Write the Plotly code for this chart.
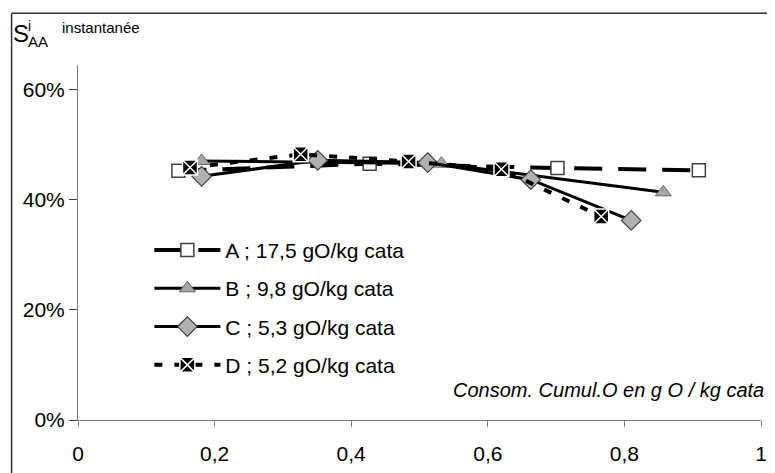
import plotly.graph_objects as go

# ---- data ----
a_x = [0.147, 0.427, 0.702, 0.909]
a_y = [0.452, 0.465, 0.457, 0.453]

b_x = [0.181, 0.532, 0.857]
b_y = [0.470, 0.465, 0.413]

c_x = [0.181, 0.351, 0.512, 0.663, 0.810]
c_y = [0.442, 0.471, 0.467, 0.436, 0.362]

d_x = [0.164, 0.326, 0.484, 0.620, 0.766]
d_y = [0.458, 0.482, 0.469, 0.455, 0.369]

names = ["A ; 17,5 gO/kg cata", "B ; 9,8 gO/kg cata",
         "C ; 5,3 gO/kg cata", "D ; 5,2 gO/kg cata"]

x_ticks = [0, 0.2, 0.4, 0.6, 0.8, 1]
x_tick_labels = ["0", "0,2", "0,4", "0,6", "0,8", "1"]
y_ticks = [0, 0.2, 0.4, 0.6]
y_tick_labels = ["0%", "20%", "40%", "60%"]

FONT = "Liberation Sans, Arial, sans-serif"
OFF = 8  # default page body margin
W, H = 775 - OFF, 473 - OFF
# plot area in screen pixels: x 78..767, y 65..429
L, R, T, B = 78 - OFF, 775 - 767, 65 - OFF, 473 - 429
PW, PH = W - L - R, H - T - B


def px(X):
    return (X - OFF - L) / PW


def py(Y):
    return (H - B - (Y - OFF)) / PH


fig = go.Figure()

fig.add_trace(go.Scatter(
    x=a_x, y=a_y, name=names[0], mode="lines+markers", legendgroup="a",
    line=dict(color="black", width=4, dash="28px,16px"),
    marker=dict(symbol="square", size=13, color="white",
                line=dict(color="#404040", width=1.5))))
fig.add_trace(go.Scatter(
    x=b_x, y=b_y, name=names[1], mode="lines+markers", legendgroup="b",
    line=dict(color="black", width=3),
    marker=dict(symbol="triangle-up", size=14, color="#a6a6a6",
                line=dict(color="#666666", width=1))))
fig.add_trace(go.Scatter(
    x=c_x, y=c_y, name=names[2], mode="lines+markers", legendgroup="c",
    line=dict(color="black", width=3),
    marker=dict(symbol="diamond", size=15, color="#b0b0b0",
                line=dict(color="#404040", width=1.2))))
fig.add_trace(go.Scatter(
    x=d_x, y=d_y, name=names[3], mode="lines+markers", legendgroup="d",
    line=dict(color="black", width=4, dash="8px,12px"),
    marker=dict(symbol="square-x", size=15, color="black",
                line=dict(color="white", width=1.5))))

fig.update_layout(
    width=W, height=H,
    margin=dict(l=L, r=R, t=T, b=B),
    paper_bgcolor="white", plot_bgcolor="white",
    font=dict(family=FONT, size=21, color="black"),
    showlegend=True,
    legend=dict(x=px(150), y=py(234), xanchor="left", yanchor="top",
                bgcolor="rgba(0,0,0,0)", font=dict(size=21),
                tracegroupgap=8, itemwidth=66),
    xaxis=dict(range=[0, 1], tickvals=x_ticks, ticktext=x_tick_labels,
               showgrid=False, zeroline=False, showline=True,
               linecolor="#7f7f7f", linewidth=1,
               ticks="outside", ticklen=6, tickcolor="#7f7f7f",
               tickfont=dict(size=21), ticklabelstandoff=9),
    yaxis=dict(range=[0, 0.644], tickvals=y_ticks, ticktext=y_tick_labels,
               showgrid=False, zeroline=False, showline=True,
               linecolor="#7f7f7f", linewidth=1,
               ticks="outside", ticklen=8, tickcolor="#404040",
               tickfont=dict(size=21)),
)

# outer frame (top and left edges visible)
fig.add_shape(type="line", xref="paper", yref="paper",
              x0=px(11), x1=px(800), y0=py(12), y1=py(12),
              line=dict(color="#333333", width=1.5))
fig.add_shape(type="line", xref="paper", yref="paper",
              x0=px(11), x1=px(11), y0=py(12), y1=py(500),
              line=dict(color="#333333", width=1.5))

# y-axis title S^i_AA instantanée
fig.add_annotation(xref="paper", yref="paper", x=px(10), y=py(33),
                   text="S", showarrow=False, xanchor="left", yanchor="middle",
                   font=dict(size=24))
fig.add_annotation(xref="paper", yref="paper", x=px(26), y=py(25),
                   text="i", showarrow=False, xanchor="left", yanchor="middle",
                   font=dict(size=14))
fig.add_annotation(xref="paper", yref="paper", x=px(26), y=py(41),
                   text="AA", showarrow=False, xanchor="left", yanchor="middle",
                   font=dict(size=15))
fig.add_annotation(xref="paper", yref="paper", x=px(60), y=py(27),
                   text="instantanée", showarrow=False, xanchor="left",
                   yanchor="middle", font=dict(size=15))

# x-axis title
fig.add_annotation(xref="paper", yref="paper", x=px(772), y=py(398),
                   text="<i>Consom. Cumul.O en g O / kg cata</i>",
                   showarrow=False, xanchor="right", yanchor="middle",
                   font=dict(size=20))

fig.write_html("out.html")
